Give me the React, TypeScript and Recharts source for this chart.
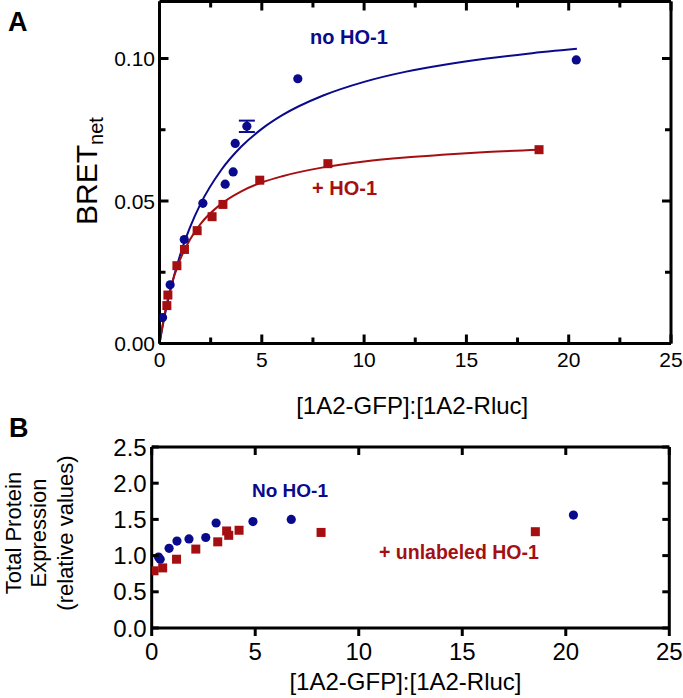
import React from "react";
import { ComposedChart, Scatter, Line, XAxis, YAxis, ErrorBar } from "recharts";

const BLUE = "#0a0a8c";
const RED = "#a50f12";
const FONT = "'Liberation Sans', Arial, sans-serif";

// panel A: BRETnet vs acceptor/donor ratio
const noHoX = [0.15, 0.52, 1.21, 2.12, 3.21, 3.6, 3.7, 4.27, 6.76, 20.37];
const noHoBret = [0.0091, 0.0206, 0.0365, 0.0492, 0.0559, 0.0602, 0.0702, 0.0762, 0.0929, 0.0995];
const noHoErr = [null, null, null, null, null, null, null, 0.002, null, null];
const hoX = [0.36, 0.41, 0.85, 1.22, 1.84, 2.57, 3.1, 4.9, 8.23, 18.55];
const hoBret = [0.0133, 0.017, 0.0273, 0.033, 0.0396, 0.0445, 0.0488, 0.0573, 0.0631, 0.068];

// fitted curves
const noHoFitX = [0, 0.25, 0.5, 1, 1.5, 2, 3, 4, 5, 6, 8, 10, 12, 14, 16, 18, 20.4];
const noHoFit = [0, 0.0096, 0.0178, 0.0309, 0.0409, 0.0489, 0.0607, 0.0691, 0.0753, 0.0801, 0.087, 0.0918, 0.0953, 0.0979, 0.1, 0.1017, 0.1034];
const hoFitX = [0, 0.25, 0.5, 1, 1.5, 2, 3, 4, 5, 6, 8, 10, 12, 14, 16, 18.55];
const hoFit = [0, 0.0104, 0.0183, 0.0293, 0.0366, 0.0419, 0.0489, 0.0534, 0.0565, 0.0587, 0.0618, 0.0639, 0.0653, 0.0663, 0.0672, 0.068];

// panel B: total protein expression
const exprNoHoX = [0.33, 0.41, 0.84, 1.22, 1.8, 2.61, 3.11, 4.89, 6.74, 20.37];
const exprNoHo = [0.98, 0.95, 1.1, 1.2, 1.23, 1.25, 1.45, 1.47, 1.5, 1.56];
const exprHoX = [0.11, 0.53, 1.2, 2.13, 3.19, 3.62, 3.72, 4.22, 8.18, 18.53];
const exprHo = [0.79, 0.83, 0.95, 1.09, 1.19, 1.34, 1.28, 1.35, 1.32, 1.33];

const xTicksA = [0, 2.5, 5, 7.5, 10, 12.5, 15, 17.5, 20, 22.5, 25];
const yTicksA = [0, 0.025, 0.05, 0.075, 0.1];
const xTicksB = [0, 5, 10, 15, 20, 25];
const yTicksB = [0, 0.5, 1, 1.5, 2, 2.5];

const zip = (xs: number[], ys: (number | null)[], extra?: (number | null)[]) =>
  xs.map((x, i) => ({ x, y: ys[i], err: extra ? extra[i] : null }));

const noHoData = zip(noHoX, noHoBret, noHoErr);
const hoData = zip(hoX, hoBret);
const noHoFitData = zip(noHoFitX, noHoFit);
const hoFitData = zip(hoFitX, hoFit);
const exprNoHoData = zip(exprNoHoX, exprNoHo);
const exprHoData = zip(exprHoX, exprHo);

// plot boxes in page pixels (panel B sits 430px down)
const BOX_A = { l: 159.5, r: 671, t: 1.5, b: 343.5, xMax: 25, yMax: 0.12 };
const BOX_B = { l: 151.7, r: 669.3, t: 447, b: 628, xMax: 25, yMax: 2.5 };
const B_TOP = 430;

const axisStyle = { stroke: "#000", strokeWidth: 3 };

const leftLabel = (at: number, gap: number, fontSize: number, fmt: (v: number) => string) => (p: any) => (
  <text x={at - gap} y={p.payload.coordinate} dy="0.36em" textAnchor="end" fontSize={fontSize} fontFamily={FONT} fill="#000">
    {fmt(p.payload.value)}
  </text>
);
const bottomLabel = (at: number, gap: number, fontSize: number, fmt: (v: number) => string) => (p: any) => (
  <text x={p.payload.coordinate} y={at + gap} dy="0.72em" textAnchor="middle" fontSize={fontSize} fontFamily={FONT} fill="#000">
    {fmt(p.payload.value)}
  </text>
);
const noLabel = () => <g />;

const isMajorA = (v: number) => v % 5 === 0;
const isMajorAY = (v: number) => Math.round(v * 1000) % 50 === 0;

const dot = (color: string, r: number) => (p: any) => <circle cx={p.cx} cy={p.cy} r={r} fill={color} />;
const square = (color: string, s: number) => (p: any) => (
  <rect x={p.cx - s / 2} y={p.cy - s / 2} width={s} height={s} fill={color} />
);

function PanelA() {
  return (
    <ComposedChart width={683} height={420} margin={{ top: 0, right: 0, bottom: 0, left: 0 }} style={{ fontFamily: FONT }}>
      <XAxis xAxisId="b" dataKey="x" type="number" domain={[0, 25]} ticks={xTicksA} allowDataOverflow
        height={76.5} axisLine={axisStyle} tickLine={false}
        tick={bottomLabel(BOX_A.b, 8.5, 21, (v) => (isMajorA(v) ? String(v) : ""))}
        label={{ value: "[1A2-GFP]:[1A2-Rluc]", position: "insideBottom", offset: 6, dx: -3, fontSize: 24, fill: "#000", fontFamily: FONT }} />
      <XAxis xAxisId="t" orientation="top" type="number" domain={[0, 25]} ticks={xTicksA} allowDataOverflow
        height={1.5} axisLine={axisStyle} tickLine={false} tick={noLabel} />
      <YAxis yAxisId="l" dataKey="y" type="number" domain={[0, 0.12]} ticks={yTicksA} allowDataOverflow
        width={159.5} axisLine={axisStyle} tickLine={false}
        tick={leftLabel(BOX_A.l, 4.5, 21, (v) => (isMajorAY(v) ? v.toFixed(2) : ""))} />
      <YAxis yAxisId="r" orientation="right" type="number" domain={[0, 0.12]} ticks={yTicksA} allowDataOverflow
        width={12} axisLine={axisStyle} tickLine={false} tick={noLabel} />
      <Line xAxisId="b" yAxisId="l" data={noHoFitData} dataKey="y" type="monotone" stroke={BLUE} strokeWidth={2} dot={false} isAnimationActive={false} />
      <Line xAxisId="b" yAxisId="l" data={hoFitData} dataKey="y" type="monotone" stroke={RED} strokeWidth={2} dot={false} isAnimationActive={false} />
      <Scatter xAxisId="b" yAxisId="l" data={hoData} dataKey="y" shape={square(RED, 9)} isAnimationActive={false} />
      <Scatter xAxisId="b" yAxisId="l" data={noHoData} dataKey="y" shape={dot(BLUE, 4.6)} isAnimationActive={false}>
        <ErrorBar dataKey="err" direction="y" width={8} stroke={BLUE} strokeWidth={2} isAnimationActive={false} />
      </Scatter>
    </ComposedChart>
  );
}

function PanelB() {
  const bAxis = BOX_B.b - B_TOP;
  return (
    <ComposedChart width={683} height={268} margin={{ top: 0, right: 0, bottom: 0, left: 0 }} style={{ fontFamily: FONT }}>
      <XAxis xAxisId="b" dataKey="x" type="number" domain={[0, 25]} ticks={xTicksB} allowDataOverflow
        height={70} axisLine={axisStyle} tickLine={false}
        tick={bottomLabel(bAxis, 15, 24, (v) => String(v))}
        label={{ value: "[1A2-GFP]:[1A2-Rluc]", position: "insideBottom", offset: 8, dx: -5, fontSize: 24, fill: "#000", fontFamily: FONT }} />
      <XAxis xAxisId="t" orientation="top" type="number" domain={[0, 25]} ticks={xTicksB} allowDataOverflow
        height={BOX_B.t - B_TOP} axisLine={axisStyle} tickLine={false} tick={noLabel} />
      <YAxis yAxisId="l" dataKey="y" type="number" domain={[0, 2.5]} ticks={yTicksB} allowDataOverflow
        width={BOX_B.l} axisLine={axisStyle} tickLine={false}
        tick={leftLabel(BOX_B.l, 5, 24, (v) => v.toFixed(1))} />
      <YAxis yAxisId="r" orientation="right" type="number" domain={[0, 2.5]} ticks={yTicksB} allowDataOverflow
        width={683 - BOX_B.r} axisLine={axisStyle} tickLine={false} tick={noLabel} />
      <Scatter xAxisId="b" yAxisId="l" data={exprHoData} dataKey="y" shape={square(RED, 9)} isAnimationActive={false} />
      <Scatter xAxisId="b" yAxisId="l" data={exprNoHoData} dataKey="y" shape={dot(BLUE, 4.6)} isAnimationActive={false} />
    </ComposedChart>
  );
}

// tick marks of the closed frames; they point into the box (panel B bottom points out)
type Box = typeof BOX_A;
function FrameTicks({ box, xTicks, yTicks, xLen, yLen, bottomOut }: {
  box: Box; xTicks: number[]; yTicks: number[];
  xLen: (v: number) => number; yLen: (v: number) => number; bottomOut?: boolean;
}) {
  const px = (v: number) => box.l + (v / box.xMax) * (box.r - box.l);
  const py = (v: number) => box.b - (v / box.yMax) * (box.b - box.t);
  const s = { stroke: "#000", strokeWidth: 3 };
  return (
    <g>
      {xTicks.map((v) => (
        <g key={"x" + v}>
          <line x1={px(v)} x2={px(v)} y1={box.t} y2={box.t + xLen(v)} {...s} />
          <line x1={px(v)} x2={px(v)} y1={box.b} y2={bottomOut ? box.b + xLen(v) : box.b - xLen(v)} {...s} />
        </g>
      ))}
      {yTicks.map((v) => (
        <g key={"y" + v}>
          <line x1={box.l} x2={box.l + yLen(v)} y1={py(v)} y2={py(v)} {...s} />
          <line x1={box.r} x2={box.r - yLen(v)} y1={py(v)} y2={py(v)} {...s} />
        </g>
      ))}
    </g>
  );
}

function Annotations() {
  const bold = { fontFamily: FONT, fontWeight: 700 };
  return (
    <svg width={683} height={698} style={{ position: "absolute", left: 0, top: 0, pointerEvents: "none" }}>
      <FrameTicks box={BOX_A} xTicks={xTicksA} yTicks={yTicksA}
        xLen={(v) => (isMajorA(v) ? 9 : 6)} yLen={(v) => (isMajorAY(v) ? 9 : 6)} />
      <FrameTicks box={BOX_B} xTicks={xTicksB} yTicks={yTicksB} xLen={() => 8} yLen={() => 7} bottomOut />
      <text x={8} y={31} fontSize={27} {...bold}>A</text>
      <text x={9} y={437} fontSize={27} {...bold}>B</text>
      <text x={310} y={44} fontSize={20} fill={BLUE} {...bold}>no HO-1</text>
      <text x={312} y={195} fontSize={20} fill={RED} {...bold}>+ HO-1</text>
      <text x={252} y={497} fontSize={19} fill={BLUE} {...bold}>No HO-1</text>
      <text x={379} y={559} fontSize={19.5} fill={RED} {...bold}>+ unlabeled HO-1</text>
      <text transform="translate(96.7,171) rotate(-90)" textAnchor="middle" fontFamily={FONT} fontSize={30}>
        BRET<tspan fontSize={20} dy={6}>net</tspan>
      </text>
      <g fontFamily={FONT} fontSize={22} textAnchor="middle">
        <text transform="translate(21,533) rotate(-90)">Total Protein</text>
        <text transform="translate(46,533) rotate(-90)">Expression</text>
        <text transform="translate(73,533) rotate(-90)">(relative values)</text>
      </g>
    </svg>
  );
}

export default function App() {
  return (
    <div style={{ position: "absolute", left: 0, top: 0, width: 683, height: 698, background: "#fff" }}>
      <div style={{ position: "absolute", left: 0, top: 0 }}>
        <PanelA />
      </div>
      <div style={{ position: "absolute", left: 0, top: B_TOP }}>
        <PanelB />
      </div>
      <Annotations />
    </div>
  );
}
